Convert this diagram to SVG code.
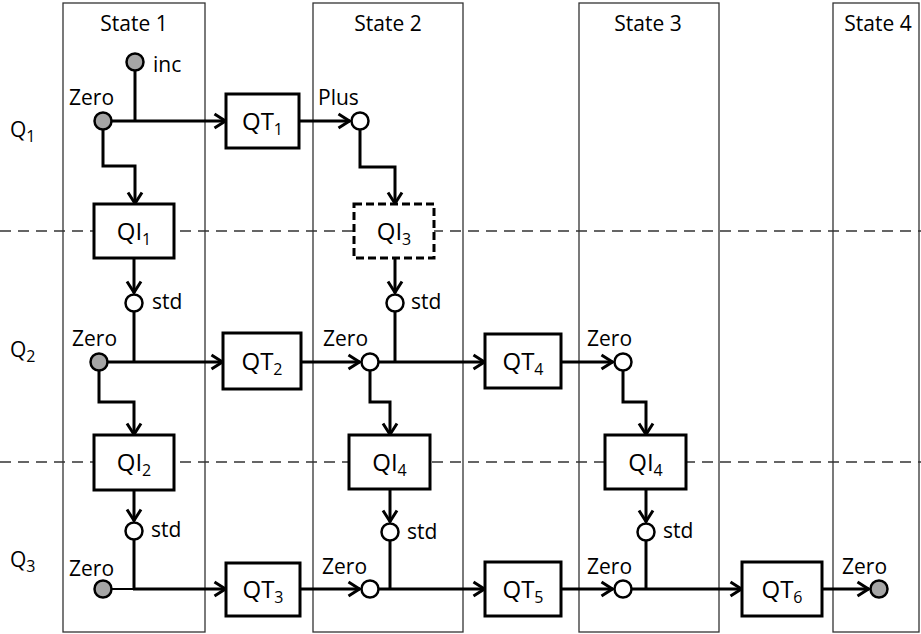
<svg xmlns="http://www.w3.org/2000/svg" width="921" height="634" viewBox="0 0 921 634">
<style>
text{font-family:"Open Sans","Liberation Sans",sans-serif;fill:#000}
.lbl{font-size:21px}
.nl{font-size:24px;text-anchor:middle}
.sub{font-size:16px}
.state{fill:none;stroke:#333;stroke-width:1.3}
.sep{stroke:#333;stroke-width:1.3;stroke-dasharray:11 7}
.box{fill:#fff;stroke:#000;stroke-width:3}
.dbox{fill:#fff;stroke:#000;stroke-width:3;stroke-dasharray:8 4}
.c{stroke:#000;stroke-width:3;fill:none}
.ca{stroke:#000;stroke-width:3;fill:none;marker-end:url(#ah)}
.g{fill:#a6a6a6;stroke:#000;stroke-width:2.5}
.w{fill:#fff;stroke:#000;stroke-width:2.5}
</style>
<defs>
<marker id="ah" markerUnits="userSpaceOnUse" markerWidth="16" markerHeight="18" viewBox="0 0 16 18" refX="13.5" refY="9" orient="auto">
<path d="M2,2 L13,9 L2,16" fill="none" stroke="#000" stroke-width="3"/>
</marker>
</defs>
<rect width="921" height="634" fill="#fff"/>
<g id="separators">
<line class="sep" x1="0" y1="231" x2="921" y2="231"/>
<line class="sep" x1="0" y1="462" x2="921" y2="462"/>
</g>
<g id="states">
<rect class="state" x="63" y="3" width="142" height="629"/>
<rect class="state" x="313" y="3" width="150" height="629"/>
<rect class="state" x="579" y="3" width="140" height="629"/>
<rect class="state" x="833" y="3" width="86" height="629"/>
<text class="lbl" x="134" y="31" text-anchor="middle">State 1</text>
<text class="lbl" x="388" y="31" text-anchor="middle">State 2</text>
<text class="lbl" x="648" y="31" text-anchor="middle">State 3</text>
<text class="lbl" x="878" y="31" text-anchor="middle">State 4</text>
</g>
<g id="rowlabels">
<text class="lbl" x="10" y="137">Q<tspan class="sub" dy="5">1</tspan></text>
<text class="lbl" x="10" y="357">Q<tspan class="sub" dy="5">2</tspan></text>
<text class="lbl" x="10" y="567">Q<tspan class="sub" dy="5">3</tspan></text>
</g>
<g id="connectors">
<line class="c" x1="135" y1="70" x2="135" y2="121"/>
<line class="ca" x1="112" y1="121" x2="226" y2="121"/>
<line class="ca" x1="299" y1="121" x2="350" y2="121"/>
<polyline class="ca" points="103,130 103,166 135,166 135,204"/>
<polyline class="ca" points="360,130 360,167 395,167 395,204"/>
<line class="ca" x1="134" y1="258" x2="134" y2="293"/>
<line class="ca" x1="395" y1="258" x2="395" y2="293"/>
<line class="c" x1="134" y1="312" x2="134" y2="362"/>
<line class="ca" x1="108" y1="362" x2="223" y2="362"/>
<line class="ca" x1="301" y1="362" x2="360" y2="362"/>
<line class="c" x1="395" y1="312" x2="395" y2="362"/>
<line class="ca" x1="379" y1="362" x2="485" y2="362"/>
<line class="ca" x1="561" y1="362" x2="613" y2="362"/>
<polyline class="ca" points="99,371 99,402 134,402 134,435"/>
<polyline class="ca" points="370,371 370,402 390,402 390,435"/>
<polyline class="ca" points="623,371 623,402 646,402 646,435"/>
<line class="ca" x1="134" y1="490" x2="134" y2="521"/>
<line class="ca" x1="390" y1="489" x2="390" y2="522"/>
<line class="ca" x1="646" y1="489" x2="646" y2="522"/>
<line class="c" x1="134" y1="540" x2="134" y2="589"/>
<line stroke="#000" stroke-width="2" x1="112" y1="589" x2="134" y2="589"/>
<line class="ca" x1="133" y1="589" x2="226" y2="589"/>
<line class="ca" x1="300" y1="589" x2="360" y2="589"/>
<line class="c" x1="390" y1="541" x2="390" y2="589"/>
<line class="ca" x1="379" y1="589" x2="485" y2="589"/>
<line class="ca" x1="561" y1="589" x2="613" y2="589"/>
<line class="c" x1="646" y1="541" x2="646" y2="589"/>
<line class="ca" x1="632" y1="589" x2="742" y2="589"/>
<line class="ca" x1="822" y1="589" x2="869" y2="589"/>
</g>
<g id="inc"><circle class="g" cx="135" cy="62" r="8.5"/><text class="lbl" x="153" y="72">inc</text></g>
<g id="zero1_1"><circle class="g" cx="103" cy="121" r="8.5"/><text class="lbl" x="69" y="105">Zero</text></g>
<g id="plus2_1"><circle class="w" cx="360" cy="121" r="8.5"/><text class="lbl" x="318" y="105">Plus</text></g>
<g id="QT1"><rect class="box" x="226" y="94" width="73" height="54"/><text class="nl" x="262.5" y="130">QT<tspan class="sub" dy="5">1</tspan></text></g>
<g id="QI1"><rect class="box" x="94" y="204" width="80" height="54"/><text class="nl" x="134" y="240">QI<tspan class="sub" dy="5">1</tspan></text></g>
<g id="QI3"><rect class="dbox" x="354" y="204" width="80" height="54"/><text class="nl" x="394" y="240">QI<tspan class="sub" dy="5">3</tspan></text></g>
<g id="std1_2"><circle class="w" cx="134" cy="303" r="8.5"/><text class="lbl" x="152" y="309">std</text></g>
<g id="std2_2"><circle class="w" cx="395" cy="303" r="8.5"/><text class="lbl" x="411" y="309">std</text></g>
<g id="zero1_2"><circle class="g" cx="99" cy="362" r="8.5"/><text class="lbl" x="72" y="346">Zero</text></g>
<g id="zero2_2"><circle class="w" cx="370" cy="362" r="8.5"/><text class="lbl" x="323" y="346">Zero</text></g>
<g id="zero3_2"><circle class="w" cx="623" cy="362" r="8.5"/><text class="lbl" x="587" y="346">Zero</text></g>
<g id="QT2"><rect class="box" x="223" y="333" width="78" height="56"/><text class="nl" x="262" y="370">QT<tspan class="sub" dy="5">2</tspan></text></g>
<g id="QT4"><rect class="box" x="485" y="334" width="76" height="54"/><text class="nl" x="523" y="370">QT<tspan class="sub" dy="5">4</tspan></text></g>
<g id="QI2"><rect class="box" x="94" y="435" width="80" height="55"/><text class="nl" x="134" y="471">QI<tspan class="sub" dy="5">2</tspan></text></g>
<g id="QI4a"><rect class="box" x="349" y="435" width="81" height="54"/><text class="nl" x="389.5" y="471">QI<tspan class="sub" dy="5">4</tspan></text></g>
<g id="QI4b"><rect class="box" x="605" y="435" width="81" height="54"/><text class="nl" x="645.5" y="471">QI<tspan class="sub" dy="5">4</tspan></text></g>
<g id="std1_3"><circle class="w" cx="134" cy="531" r="8.5"/><text class="lbl" x="151" y="537">std</text></g>
<g id="std2_3"><circle class="w" cx="390" cy="532" r="8.5"/><text class="lbl" x="407" y="539">std</text></g>
<g id="std3_3"><circle class="w" cx="646" cy="532" r="8.5"/><text class="lbl" x="663" y="538">std</text></g>
<g id="zero1_3"><circle class="g" cx="103" cy="589" r="8.5"/><text class="lbl" x="69" y="576">Zero</text></g>
<g id="zero2_3"><circle class="w" cx="370" cy="589" r="8.5"/><text class="lbl" x="322" y="574">Zero</text></g>
<g id="zero3_3"><circle class="w" cx="623" cy="589" r="8.5"/><text class="lbl" x="587" y="574">Zero</text></g>
<g id="zero4_3"><circle class="g" cx="879" cy="589" r="8.5"/><text class="lbl" x="842" y="574">Zero</text></g>
<g id="QT3"><rect class="box" x="226" y="563" width="74" height="53"/><text class="nl" x="263" y="598">QT<tspan class="sub" dy="5">3</tspan></text></g>
<g id="QT5"><rect class="box" x="485" y="562" width="76" height="54"/><text class="nl" x="523" y="598">QT<tspan class="sub" dy="5">5</tspan></text></g>
<g id="QT6"><rect class="box" x="742" y="562" width="80" height="54"/><text class="nl" x="782" y="598">QT<tspan class="sub" dy="5">6</tspan></text></g>
</svg>
